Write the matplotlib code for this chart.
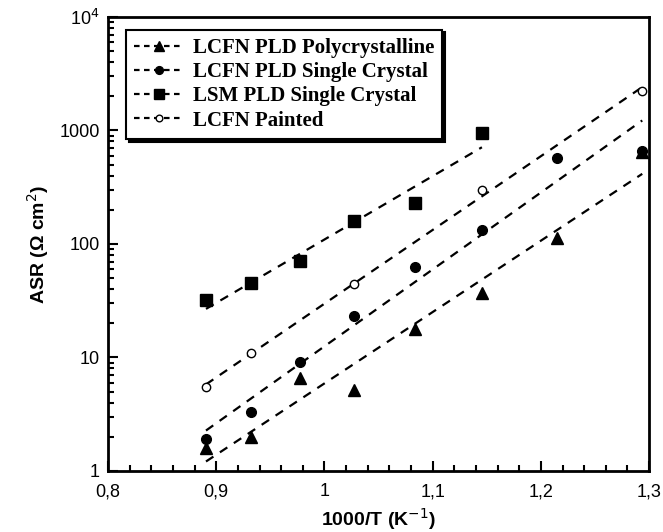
import numpy as np
import matplotlib.pyplot as plt
from matplotlib.ticker import FixedLocator, FixedFormatter, LogLocator, MultipleLocator, NullFormatter

# 1000/T values (850 ... 500 C)
inv_t = [0.8905, 0.932, 0.9775, 1.0277, 1.0834, 1.1455, 1.215, 1.2937]

x_tri = inv_t
y_tri = [1.6, 2.0, 6.6, 5.2, 18, 37, 113, 646]

x_circ = inv_t
y_circ = [1.9, 3.3, 9.1, 23, 63, 132, 574, 660]

x_sq = inv_t[:6]
y_sq = [32, 45, 71, 160, 230, 950]

x_open = [inv_t[0], inv_t[1], inv_t[3], inv_t[5], inv_t[7]]
y_open = [5.5, 11, 44, 300, 2230]

labels = ["LCFN PLD Polycrystalline", "LCFN PLD Single Crystal",
          "LSM PLD Single Crystal", "LCFN Painted"]


def fit(x, y):
    p = np.polyfit(x, np.log10(y), 1)
    xx = np.array([x[0], x[-1]])
    return xx, 10 ** np.polyval(p, xx)


fig = plt.figure(figsize=(6.63, 5.32), dpi=100)
ax = fig.add_axes([0.163, 0.1147, 0.816, 0.8534])

series = [(x_tri, y_tri, '^', 'k', 9), (x_circ, y_circ, 'o', 'k', 7),
          (x_sq, y_sq, 's', 'k', 9), (x_open, y_open, 'o', 'white', 6)]
for (x, y, m, fc, ms), lab in zip(series, labels):
    fx, fy = fit(x, y)
    ax.plot(fx, fy, '--', color='k', lw=1.6, dashes=(4, 3.5))
    ax.plot(x, y, m, mfc=fc, mec='k', ms=ms, mew=1, ls='none')
    ax.plot([], [], '--', color='k', lw=1.6, dashes=(2.5, 2), marker=m,
            mfc=fc, mec='k', ms=ms * 0.8, label=lab)

ax.set_yscale('log')
ax.set_xlim(0.8, 1.3)
ax.set_ylim(1, 1e4)

ax.xaxis.set_major_locator(FixedLocator([0.8, 0.9, 1.0, 1.1, 1.2, 1.3]))
ax.xaxis.set_major_formatter(FixedFormatter(["0,8", "0,9", "1", "1,1", "1,2", "1,3"]))
ax.xaxis.set_minor_locator(MultipleLocator(0.02))
ax.yaxis.set_major_locator(FixedLocator([1, 10, 100, 1000, 1e4]))
ax.yaxis.set_major_formatter(FixedFormatter(["1", "10", "100", "1000", "10$^4$"]))
ax.yaxis.set_minor_locator(LogLocator(base=10, subs=np.arange(2, 10)))
ax.yaxis.set_minor_formatter(NullFormatter())

ax.tick_params(which='both', direction='in', top=False, right=False, width=1.5,
               labelsize=13, labelfontfamily='Liberation Sans')
ax.tick_params(which='major', length=7)
ax.tick_params(which='minor', length=4)
ax.tick_params(axis='x', which='major', pad=9)
ax.tick_params(axis='y', which='major', pad=6)
for s in ax.spines.values():
    s.set_linewidth(2)

ax.set_xlabel('1000/T (K$^{-1}$)', fontsize=14, fontweight='bold',
              family='Liberation Sans')
ax.set_ylabel('ASR (\u03a9 cm$^2$)', fontsize=14, fontweight='bold',
              family='Liberation Sans', labelpad=6)

leg = ax.legend(loc='upper left', bbox_to_anchor=(0.033, 0.972), frameon=True,
                fancybox=False, shadow={'color': 'k', 'alpha': 1},
                prop={'family': 'Liberation Serif', 'weight': 'bold', 'size': 15},
                handlelength=2.4, handletextpad=0.4, labelspacing=0.2,
                borderpad=0.4, borderaxespad=0, numpoints=1)
leg.get_frame().set_edgecolor('k')
leg.get_frame().set_linewidth(1.5)

fig.savefig('out.png', dpi=100)
